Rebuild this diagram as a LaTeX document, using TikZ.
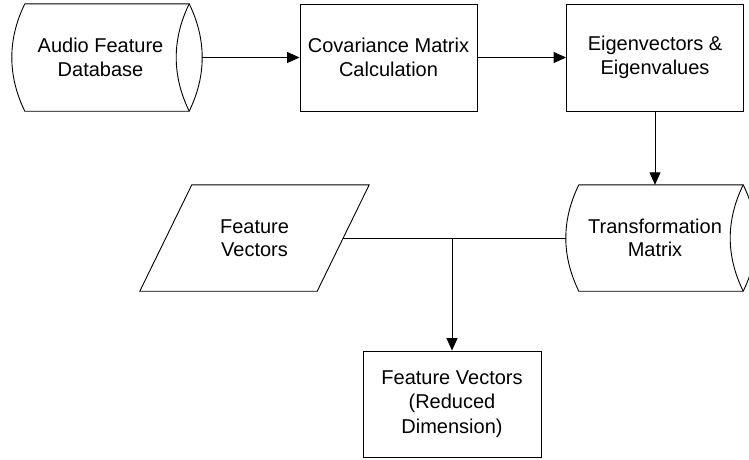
\documentclass[tikz,border=0pt]{standalone}
\usepackage{fontspec}
\setmainfont{Liberation Sans}
\usetikzlibrary{arrows.meta}

% Outline of a horizontal storage drum around an invisible frame node:
% straight top and bottom, a bulge on the left, a lens on the right.
\newcommand\drumoutline[1]{%
  \draw[outline]
    ([xshift=13pt]#1.north west) -- ([xshift=-13pt]#1.north east)
    .. controls +(17.33,35.67) and +(17.33,-35.67) .. ([xshift=-13pt]#1.south east)
    -- ([xshift=13pt]#1.south west)
    .. controls +(-17.33,-35.67) and +(-17.33,35.67) .. ([xshift=13pt]#1.north west);
  \draw[outline]
    ([xshift=-13pt]#1.north east)
    .. controls +(-17.33,35.67) and +(-17.33,-35.67) .. ([xshift=-13pt]#1.south east);
}

\tikzset{
  outline/.style={draw=black, line width=0.9pt},
  txt/.style={inner sep=0pt, align=center, font=\fontsize{20}{23.5}\selectfont},
  procbox/.style={txt, outline, rectangle, minimum width=177pt, minimum height=107pt},
  frame/.style={rectangle, inner sep=0pt, minimum width=190pt, minimum height=#1},
  slantframe/.style={rectangle, inner sep=0pt, minimum width=229pt, minimum height=106pt},
  flow/.style={outline, -{Triangle[length=12.5pt,width=11pt]}},
  link/.style={outline},
}

\begin{document}
\begin{tikzpicture}[x=1pt, y=-1pt]
  \useasboundingbox (0,0) rectangle (749,459);
  \clip (0,0) rectangle (749,459);
  \fill[white] (0,0) rectangle (749,459);

  % top row
  \node[frame=107pt] (db) at (107,57.5) {};
  \drumoutline{db}
  \node[txt] (dbtext) at (100.5,57.5) {Audio Feature\\Database};

  \node[procbox] (cov) at (388.5,57.5) {Covariance Matrix\\Calculation};
  \node[procbox] (eig) at (655,57.5) {Eigenvectors \&\\Eigenvalues};

  % middle row
  \node[frame=106pt] (tm) at (661,238) {};
  \drumoutline{tm}
  \node[txt] (tmtext) at (655,238) {Transformation\\Matrix};

  \node[slantframe] (fv) at (254.5,238) {};
  \draw[outline] ([xshift=52pt]fv.north west) -- (fv.north east)
    -- ([xshift=-52pt]fv.south east) -- (fv.south west) -- cycle;
  \node[txt] (fvtext) at (254.5,238) {Feature\\Vectors};
  \coordinate (fvport) at ([xshift=-26pt]fv.east);

  % bottom
  \node[procbox, minimum width=178pt, minimum height=106pt,
        font=\fontsize{20}{24.5}\selectfont] (out) at (452,404)
        {Feature Vectors\\(Reduced\\Dimension)};

  % connectors
  \draw[flow] (db.east) -- (cov.west);
  \draw[flow] (cov.east) -- (eig.west);
  \draw[flow] (eig.south) -- (eig.south |- tm.north);
  \draw[link] (fvport) -- (tm.west);
  \coordinate (junction) at (out.north |- fvport);
  \draw[flow] (junction) -- (out.north);
\end{tikzpicture}
\end{document}
